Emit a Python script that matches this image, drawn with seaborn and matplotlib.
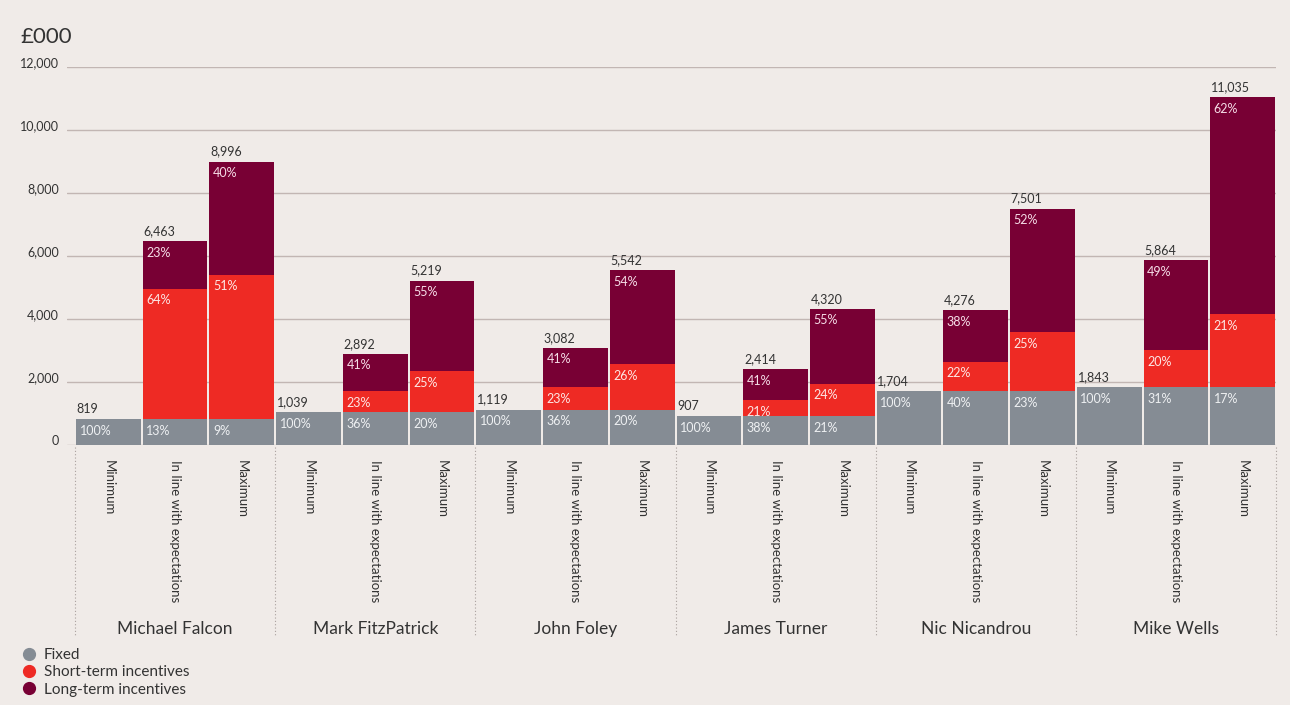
import pandas as pd
import matplotlib
matplotlib.use('Agg')
import matplotlib.pyplot as plt
import matplotlib.transforms as mtransforms
from matplotlib.lines import Line2D
import seaborn as sns

# data (£000)
directors = ['Michael Falcon', 'Mark FitzPatrick', 'John Foley',
             'James Turner', 'Nic Nicandrou', 'Mike Wells']
scenarios = ['Minimum', 'In line with expectations', 'Maximum']

fixed = [819, 819, 819, 1039, 1039, 1039, 1119, 1119, 1119,
         907, 907, 907, 1704, 1704, 1704, 1843, 1843, 1843]
short_term = [0, 4136, 4588, 0, 665, 1305, 0, 709, 1441,
              0, 507, 1037, 0, 941, 1875, 0, 1173, 2317]
long_term = [0, 1508, 3589, 0, 1188, 2875, 0, 1254, 2982,
             0, 1000, 2376, 0, 1631, 3922, 0, 2848, 6875]

# colours
bg = '#f0ebe8'
c_fixed = '#858c94'
c_sti = '#ee2a24'
c_lti = '#780034'
grid_c = '#c2b6b3'
txt_c = '#333333'

df = pd.DataFrame({
    'director': [d for d in directors for _ in scenarios],
    'scenario': scenarios * len(directors),
    'fixed': fixed,
    'sti': short_term,
    'lti': long_term,
})
df['bar'] = df['director'] + '|' + df['scenario']
df['fixed_sti'] = df['fixed'] + df['sti']
df['total'] = df['fixed_sti'] + df['lti']
order = list(df['bar'])

sns.set_theme(style='white')
plt.rcParams['font.family'] = ['Lato', 'DejaVu Sans']

fig = plt.figure(figsize=(12.9, 7.05), dpi=100, facecolor=bg)
ax = fig.add_axes([67 / 1290, 1 - 445 / 705, 1209 / 1290, 378 / 705])
ax.set_facecolor(bg)

bw = 0.97
for col, colour in [('total', c_lti), ('fixed_sti', c_sti), ('fixed', c_fixed)]:
    sns.barplot(data=df, x='bar', y=col, order=order, color=colour,
                saturation=1, width=bw, errorbar=None, ax=ax, zorder=2,
                linewidth=0, edgecolor='none')

ax.set_xlim(-0.5 - 8 / 66.7, len(order) - 0.5)
ax.set_ylim(0, 12000)
ax.set_xlabel('')
ax.set_ylabel('')
for s in ax.spines.values():
    s.set_visible(False)

# gridlines
yt = list(range(0, 12001, 2000))
ax.set_yticks(yt)
ax.set_yticklabels([f'{v:,}' for v in yt], fontsize=9, color=txt_c)
for lab in ax.get_yticklabels():
    lab.set_va('baseline')
ax.tick_params(axis='y', length=0, pad=6)
for v in yt:
    ax.axhline(v, color=grid_c, lw=1, zorder=1)

# scenario labels
ax.set_xticks(range(len(order)))
ax.set_xticklabels(df['scenario'], rotation=-90, fontsize=9.5, color=txt_c)
ax.tick_params(axis='x', length=0, pad=11)

# value and percentage labels
for i, r in df.iterrows():
    left = i - bw / 2
    ax.annotate(f"{r['total']:,}", xy=(left, r['total']), xytext=(0.5, 3),
                textcoords='offset points', ha='left', va='bottom',
                fontsize=9, color=txt_c)
    segs = [(r['fixed'], r['fixed'], '#eef0f2'),
            (r['sti'], r['fixed_sti'], '#fde6e4'),
            (r['lti'], r['total'], '#f6dde7')]
    for val, top, tc in segs:
        if val <= 0:
            continue
        pct = round(100 * val / r['total'])
        ax.annotate(f'{pct}%', xy=(left, top), xytext=(2.5, -4),
                    textcoords='offset points', ha='left', va='top',
                    fontsize=9, color=tc, zorder=5)

# group names and dotted separators
trans = mtransforms.blended_transform_factory(ax.transData, ax.transAxes)
for g, name in enumerate(directors):
    ax.text(3 * g + 1, -0.487, name, transform=trans, ha='center',
            va='center', fontsize=12.5, color=txt_c)
for g in range(len(directors) + 1):
    ax.plot([3 * g - 0.5, 3 * g - 0.5], [-0.005, -0.505], transform=trans,
            ls=(0, (1, 2)), lw=0.8, color='#a9a09d', clip_on=False)

fig.text(20 / 1290, 1 - 37 / 705, '£000', fontsize=16, color=txt_c,
         ha='left', va='center')

handles = [Line2D([], [], marker='o', ls='', markersize=8.5, color=c)
           for c in (c_fixed, c_sti, c_lti)]
fig.legend(handles, ['Fixed', 'Short-term incentives', 'Long-term incentives'],
           loc='upper left', bbox_to_anchor=(14 / 1290, 1 - 642 / 705),
           frameon=False, fontsize=11, handletextpad=0.35,
           labelspacing=0.22, handlelength=1.2, borderaxespad=0,
           labelcolor=txt_c)

fig.savefig('out.png', dpi=100, facecolor=bg)
